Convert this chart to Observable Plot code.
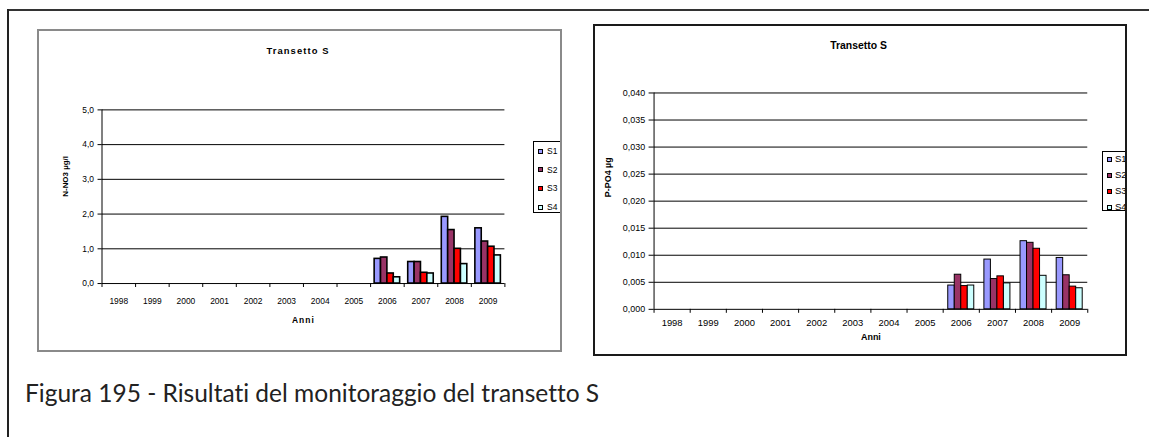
<!DOCTYPE html>
<html><head><meta charset="utf-8">
<script src="https://cdn.jsdelivr.net/npm/d3@7"></script>
<script src="https://cdn.jsdelivr.net/npm/@observablehq/plot@0.6"></script>
<style>
body{margin:0;background:#fff;}
#root{position:relative;width:1149px;height:437px;overflow:hidden;background:#fff;font-family:"Liberation Sans",Arial,sans-serif;}
.box{position:absolute;box-sizing:border-box;overflow:hidden;background:#fff;}
.box svg{position:absolute;left:-2px;top:-2px;}
.legend{position:absolute;border:1px solid #000;background:#fff;box-sizing:border-box;}
.li{position:absolute;white-space:nowrap;color:#000;}
.sw{position:absolute;box-sizing:border-box;border:1px solid #000;}
</style></head>
<body>
<div id="root">
  <div style="position:absolute;left:7px;top:9px;width:1142px;height:2px;background:#333"></div>
  <div style="position:absolute;left:7px;top:9px;width:2px;height:428px;background:#222"></div>
  <div id="c1" class="box" style="left:37px;top:29px;width:525px;height:323px;border:2px solid #8a8a8a"></div>
  <div id="c2" class="box" style="left:593px;top:24px;width:534px;height:332px;border:2px solid #1a1a1a"></div>
  <div id="cap" style="position:absolute;left:25px;top:378px;font-family:Lato,'Open Sans',sans-serif;font-size:24.5px;font-variant-ligatures:none;color:#222;line-height:30px;white-space:nowrap">Figura 195 - Risultati del monitoraggio del transetto S</div>
</div>
<script>
const years = ["1998","1999","2000","2001","2002","2003","2004","2005","2006","2007","2008","2009"];
const seriesNames = ["S1","S2","S3","S4"];
const seriesColors = ["#9999FF","#993366","#FF0000","#CCFFFF"];

// N-NO3 (µg/l)
const no3S1 = [null,null,null,null,null,null,null,null,0.71,0.62,1.92,1.59];
const no3S2 = [null,null,null,null,null,null,null,null,0.75,0.62,1.54,1.21];
const no3S3 = [null,null,null,null,null,null,null,null,0.29,0.31,1.00,1.06];
const no3S4 = [null,null,null,null,null,null,null,null,0.18,0.29,0.56,0.81];
const no3Ticks = [0,1,2,3,4,5];

// P-PO4 (µg)
const po4S1 = [null,null,null,null,null,null,null,null,0.0044,0.0092,0.0126,0.0095];
const po4S2 = [null,null,null,null,null,null,null,null,0.0064,0.0056,0.0123,0.0063];
const po4S3 = [null,null,null,null,null,null,null,null,0.0043,0.0061,0.0112,0.0042];
const po4S4 = [null,null,null,null,null,null,null,null,0.0044,0.0048,0.0062,0.0039];
const po4Ticks = [0,0.005,0.010,0.015,0.020,0.025,0.030,0.035,0.040];

function rows(arrs) {
  const out = [];
  arrs.forEach((a, s) => a.forEach((v, i) => {
    if (v != null) out.push({year: years[i], series: seriesNames[s], value: v});
  }));
  return out;
}

function chart(c) {
  const data = rows(c.series);
  const plotW = c.width - c.mL - c.mR;
  const bw = plotW / years.length;
  const w = bw * c.barFrac;
  const g = (bw - 4 * w) / 2;
  const marks = [
    Plot.ruleY(c.ticks.filter(t => t > 0), {stroke: "#000", strokeWidth: 1}),
    ...seriesNames.map((s, k) => Plot.barY(data.filter(d => d.series === s), {
      x: "year", y: "value", fill: seriesColors[k], stroke: "#000", strokeWidth: c.barStroke,
      insetLeft: g + k * w, insetRight: bw - g - (k + 1) * w
    })),
    Plot.ruleY([0], {stroke: "#000"}),
    Plot.ruleX([years[0]], {x: d => d, dx: -bw / 2, stroke: "#000"}),
    Plot.ruleX(years, {x: d => d, y1: 0, y2: 0, insetBottom: -4, dx: -bw / 2, stroke: "#000"}),
    Plot.ruleX([years[years.length - 1]], {x: d => d, y1: 0, y2: 0, insetBottom: -4, dx: bw / 2, stroke: "#000"}),
    Plot.axisY({ticks: c.ticks, tickFormat: c.fmt, tickSize: c.ytick, tickPadding: c.ypad, fontSize: c.tickFs, label: null}),
    Plot.axisX({tickSize: 0, tickPadding: c.xpad, fontSize: c.xFs, label: null}),
    Plot.text([c.title], {text: d => d, frameAnchor: "top", dx: c.titleDx, dy: c.titleDy, fontWeight: "bold", fontSize: c.titleFs}),
    Plot.text(["Anni"], {text: d => d, frameAnchor: "bottom", dy: c.anniDy, fontWeight: "bold", fontSize: c.anniFs}),
    Plot.text([c.ylabel], {text: d => d, frameAnchor: "left", rotate: -90, dx: c.ylabelDx, dy: c.ylabelDy, fontWeight: "bold", fontSize: c.ylabelFs})
  ];
  const svg = Plot.plot({
    width: c.width, height: c.height,
    marginLeft: c.mL, marginRight: c.mR, marginTop: c.mT, marginBottom: c.mB,
    x: {type: "band", domain: years, padding: 0, round: false},
    y: {domain: c.domain},
    style: {fontFamily: "'Liberation Sans', Arial, sans-serif", color: "#000", background: "transparent", overflow: "visible"},
    marks
  });
  if (c.titleSpacing) {
    d3.select(svg).selectAll("text").filter(function() { return this.textContent === c.title || this.textContent === "Anni"; })
      .style("letter-spacing", c.titleSpacing);
  }
  const el = document.getElementById(c.el);
  el.appendChild(svg);
  // legend
  const lg = document.createElement("div");
  lg.className = "legend";
  Object.assign(lg.style, {left: c.lg.left + "px", top: c.lg.top + "px", width: c.lg.width + "px", height: c.lg.height + "px"});
  seriesNames.forEach((s, k) => {
    const sw = document.createElement("div");
    sw.className = "sw";
    Object.assign(sw.style, {left: c.lg.swX + "px", top: (c.lg.y0 + k * c.lg.dy - c.lg.sw / 2) + "px", width: c.lg.sw + "px", height: c.lg.sw + "px", background: seriesColors[k]});
    lg.appendChild(sw);
    const t = document.createElement("div");
    t.className = "li";
    t.textContent = s;
    Object.assign(t.style, {left: c.lg.txX + "px", top: (c.lg.y0 + k * c.lg.dy - 6) + "px", fontSize: c.lg.fs + "px", lineHeight: "12px"});
    lg.appendChild(t);
  });
  el.appendChild(lg);
}

chart({
  el: "c1", series: [no3S1, no3S2, no3S3, no3S4], ticks: no3Ticks, domain: [0, 5],
  fmt: d => d.toFixed(1).replace(".", ","),
  title: "Transetto S", ylabel: "N-NO3 µg/l",
  width: 525, height: 323, mL: 65, mR: 54, mT: 81, mB: 67,
  barFrac: 0.19, barStroke: 1.6,
  ytick: 4, ypad: 4, tickFs: 8.5, xpad: 14.6, xFs: 8.5,
  titleDx: -5.5, titleDy: -63, titleFs: 9.5, titleSpacing: "1.1px",
  anniDy: 40, anniFs: 8.5,
  ylabelDx: -37, ylabelDy: 0, ylabelFs: 8,
  lg: {left: 494, top: 110, width: 40, height: 72, swX: 4, sw: 5, txX: 13, y0: 9, dy: 18.7, fs: 8.5}
});

chart({
  el: "c2", series: [po4S1, po4S2, po4S3, po4S4], ticks: po4Ticks, domain: [0, 0.04],
  fmt: d => d.toFixed(3).replace(".", ","),
  title: "Transetto S", ylabel: "P-PO4 µg",
  width: 534, height: 332, mL: 61, mR: 36, mT: 69, mB: 45,
  barFrac: 0.18, barStroke: 1,
  ytick: 5, ypad: 4, tickFs: 9, xpad: 9.6, xFs: 9.5,
  titleDx: -12.5, titleDy: -52, titleFs: 10.5,
  anniDy: 31, anniFs: 9,
  ylabelDx: -46.5, ylabelDy: -4, ylabelFs: 9,
  lg: {left: 507, top: 125, width: 40, height: 60, swX: 4, sw: 5, txX: 12, y0: 7, dy: 16, fs: 9.5}
});
</script>
</body></html>
